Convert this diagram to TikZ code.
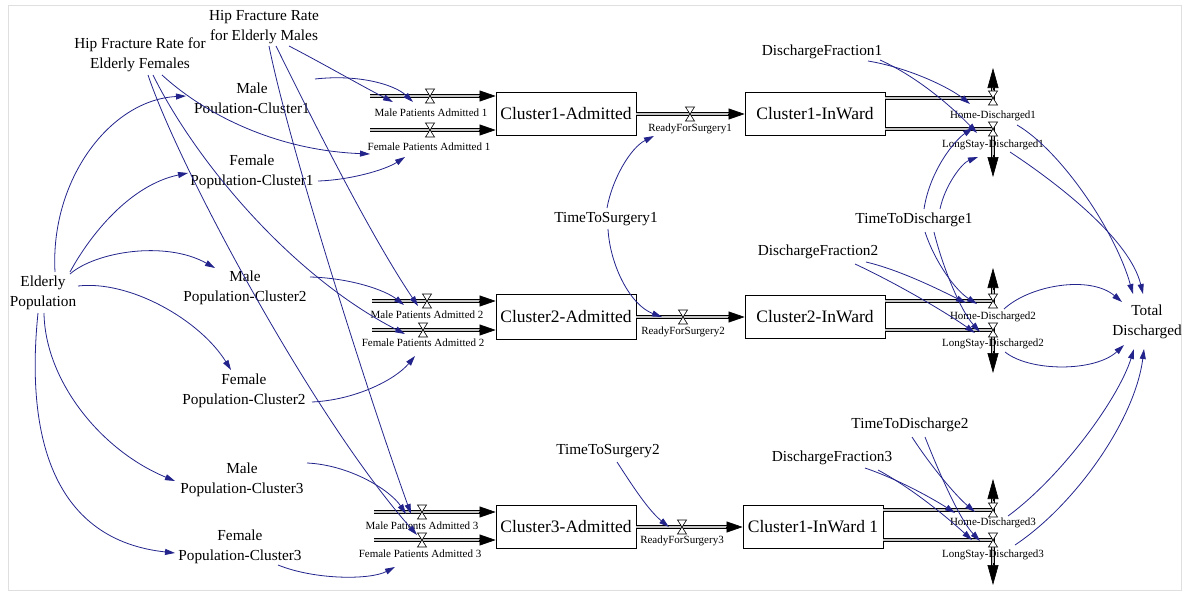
\documentclass[tikz,border=0pt]{standalone}
\usepackage{fontspec}
\setmainfont{Liberation Serif}
\usetikzlibrary{arrows.meta,calc}
\definecolor{connblue}{RGB}{35,35,140}
\begin{document}
\begin{tikzpicture}[x=1pt,y=-1pt,
 aux/.style={font=\fontsize{15.3}{20}\selectfont, align=center, inner sep=1pt},
 stockbox/.style={draw, line width=0.8pt, fill=white, minimum width=140pt, minimum height=43pt, inner sep=0pt, font=\fontsize{17.5}{20}\selectfont},
 flowlbl/.style={font=\fontsize{11}{12}\selectfont, inner sep=0.5pt},
 conn/.style={draw=connblue, line width=0.8pt, -{Triangle[length=10pt,width=6pt]}},
 pipe/.style={draw=black, line width=0.7pt, double=gray!45, double distance=1.8pt},
 pipehead/.style={-{Triangle[length=16pt,width=11pt]}, line width=0.6pt},
 sinkhead/.style={-{Triangle[length=20pt,width=11pt]}, line width=0.6pt},
 valve/.pic={\filldraw[fill=white,draw=black,line width=0.6pt] (-4.5,-7)--(4.5,-7)--(-4.5,7)--(4.5,7)--cycle;}
]
\useasboundingbox (0,0) rectangle (1186,594);
\draw[gray!25, line width=1pt] (8,6) rectangle (1181,590);

% ---------- stocks ----------
\node[stockbox] (ca1) at (566,114) {Cluster1-Admitted};
\node[stockbox] (ciw1) at (815,114) {Cluster1-InWard};
\node[stockbox, minimum height=45pt] (ca2) at (566,317) {Cluster2-Admitted};
\node[stockbox] (ciw2) at (815,317) {Cluster2-InWard};
\node[stockbox] (ca3) at (566,527) {Cluster3-Admitted};
\node[stockbox] (ciw3) at (813,527) {Cluster1-InWard 1};

% ---------- auxiliaries ----------
\node[aux] (hfF) at (140,55) {Hip Fracture Rate for\\Elderly Females};
\node[aux] (hfM) at (264,27) {Hip Fracture Rate\\for Elderly Males};
\node[aux] (mp1) at (252,98) {Male\\Poulation-Cluster1};
\node[aux] (fp1) at (252,172) {Female\\Population-Cluster1};
\node[aux] (ep) at (43,293) {Elderly\\Population};
\node[aux] (mp2) at (245,288) {Male\\Population-Cluster2};
\node[aux] (fp2) at (244,391) {Female\\Population-Cluster2};
\node[aux] (mp3) at (242,480) {Male\\Population-Cluster3};
\node[aux] (fp3) at (240,547) {Female\\Population-Cluster3};
\node[aux] (df1) at (822,52) {DischargeFraction1};
\node[aux] (tts1) at (606,219) {TimeToSurgery1};
\node[aux] (ttd1) at (914,220) {TimeToDischarge1};
\node[aux] (df2) at (818,252) {DischargeFraction2};
\node[aux] (tts2) at (608,451) {TimeToSurgery2};
\node[aux] (ttd2) at (910,425) {TimeToDischarge2};
\node[aux] (df3) at (832,458) {DischargeFraction3};
\node[aux] (td) at (1147,322) {Total\\Discharged};

% ---------- flow coordinates ----------
\coordinate (sm1) at (370,96);  \coordinate (vm1) at (430,96);  \coordinate (em1) at (ca1.west |- sm1);
\coordinate (sf1) at (370,130); \coordinate (vf1) at (430,130); \coordinate (ef1) at (ca1.west |- sf1);
\coordinate (sm2) at (372,301); \coordinate (vm2) at (427,301); \coordinate (em2) at (ca2.west |- sm2);
\coordinate (sf2) at (372,330); \coordinate (vf2) at (423,330); \coordinate (ef2) at (ca2.west |- sf2);
\coordinate (sm3) at (374,512); \coordinate (vm3) at (422,512); \coordinate (em3) at (ca3.west |- sm3);
\coordinate (sf3) at (374,540); \coordinate (vf3) at (422,540); \coordinate (ef3) at (ca3.west |- sf3);
\coordinate (vr1) at (690,114); \coordinate (vr2) at (683,317); \coordinate (vr3) at (682,527);
\coordinate (hs1) at (ciw1.east |- 0,98);  \coordinate (vh1) at (993,98);  \coordinate (th1) at (993,68);
\coordinate (ls1s) at (ciw1.east |- 0,129); \coordinate (vl1) at (993,129); \coordinate (tl1) at (993,177);
\coordinate (hs2) at (ciw2.east |- 0,301); \coordinate (vh2) at (993,301); \coordinate (th2) at (993,268);
\coordinate (ls2s) at (ciw2.east |- 0,330); \coordinate (vl2) at (993,330); \coordinate (tl2) at (993,373);
\coordinate (hs3) at (ciw3.east |- 0,510); \coordinate (vh3) at (993,510); \coordinate (th3) at (993,479);
\coordinate (ls3s) at (ciw3.east |- 0,540); \coordinate (vl3) at (993,540); \coordinate (tl3) at (993,585);

% ---------- pipes ----------
\foreach \s/\e in {sm1/em1,sf1/ef1,sm2/em2,sf2/ef2,sm3/em3,sf3/ef3}{
  \draw[pipe,shorten >=14pt] (\s) -- (\e);
  \draw[pipehead] ([xshift=-17pt]\e) -- (\e);
}
\draw[pipe,shorten >=14pt] (ca1.east) -- (ciw1.west);
\draw[pipehead] ([xshift=-17pt]ciw1.west) -- (ciw1.west);
\draw[pipe,shorten >=14pt] (ca2.east) -- (ciw2.west);
\draw[pipehead] ([xshift=-17pt]ciw2.west) -- (ciw2.west);
\draw[pipe,shorten >=14pt] (ca3.east) -- (ciw3.west);
\draw[pipehead] ([xshift=-17pt]ciw3.west) -- (ciw3.west);
\foreach \s/\v/\t/\d in {hs1/vh1/th1/1,hs2/vh2/th2/1,hs3/vh3/th3/1,ls1s/vl1/tl1/-1,ls2s/vl2/tl2/-1,ls3s/vl3/tl3/-1}{
  \draw[pipe] (\s) -- (\v) -- ([yshift=-\d*17pt]\t);
  \draw[sinkhead] ([yshift=-\d*22pt]\t) -- (\t);
}
\foreach \v in {vm1,vf1,vm2,vf2,vm3,vf3,vr1,vr2,vr3,vh1,vl1,vh2,vl2,vh3,vl3}{
  \pic at (\v) {valve};
}

% ---------- flow labels ----------
\node[flowlbl] (mpa1) at (431,113) {Male Patients Admitted 1};
\node[flowlbl] (fpa1) at (429,147) {Female Patients Admitted 1};
\node[flowlbl] (mpa2) at (427,315) {Male Patients Admitted 2};
\node[flowlbl] (fpa2) at (423,343) {Female Patients Admitted 2};
\node[flowlbl] (mpa3) at (422,526) {Male Patients Admitted 3};
\node[flowlbl] (fpa3) at (420,554) {Female Patients Admitted 3};
\node[flowlbl] (rfs1) at (690,129) {ReadyForSurgery1};
\node[flowlbl] (rfs2) at (683,332) {ReadyForSurgery2};
\node[flowlbl] (rfs3) at (682,541) {ReadyForSurgery3};
\node[flowlbl] (hd1) at (993,116) {Home-Discharged1};
\node[flowlbl] (ls1) at (993,145) {LongStay-Discharged1};
\node[flowlbl] (hd2) at (993,317) {Home-Discharged2};
\node[flowlbl] (ls2) at (993,344) {LongStay-Discharged2};
\node[flowlbl] (hd3) at (993,523) {Home-Discharged3};
\node[flowlbl] (ls3) at (993,555) {LongStay-Discharged3};

% ---------- connectors ----------
% Elderly Population
\draw[conn] ($(ep)+(12,-21)$) .. controls (50,180) and (110,100) .. ($(mp1)+(-66,-2)$);
\draw[conn] ($(ep)+(27,-21)$) .. controls (90,235) and (130,185) .. ($(fp1)+(-64,1)$);
\draw[conn] ($(ep)+(27,-19)$) .. controls (95,252) and (165,240) .. ($(mp2)+(-30,-20)$);
\draw[conn] ($(ep)+(35,-7)$) .. controls (130,280) and (200,320) .. ($(fp2)+(-13,-21)$);
\draw[conn] ($(ep)+(1,20)$) .. controls (45,380) and (100,450) .. ($(mp3)+(-67,1)$);
\draw[conn] ($(ep)+(-5,20)$) .. controls (25,440) and (55,540) .. ($(fp3)+(-65,6)$);
% Hip fracture rates
\draw[conn] ($(hfF)+(22,20)$) .. controls (200,110) and (270,150) .. ($(fpa1)+(-59,7)$);
\draw[conn] ($(hfF)+(13,20)$) .. controls (195,160) and (290,275) .. ($(fpa2)+(-18,-9)$);
\draw[conn] ($(hfF)+(8,20)$) .. controls (180,170) and (315,420) .. ($(fpa3)+(-3,-19)$);
\draw[conn] ($(hfM)+(25,19)$) .. controls (320,62) and (360,85) .. ($(mpa1)+(-38,-11)$);
\draw[conn] ($(hfM)+(12,19)$) .. controls (310,115) and (370,235) .. ($(mpa2)+(-9,-9)$);
\draw[conn] ($(hfM)+(5,19)$) .. controls (290,150) and (370,400) .. ($(mpa3)+(-11,-12)$);
% populations to admissions
\draw[conn] ($(mp1)+(63,-19)$) .. controls (360,74) and (395,85) .. ($(mpa1)+(-18,-11)$);
\draw[conn] ($(fp1)+(66,9)$) .. controls (350,180) and (385,170) .. ($(fpa1)+(-24,10)$);
\draw[conn] ($(mp2)+(65,-11)$) .. controls (350,278) and (385,290) .. ($(mpa2)+(-23,-10)$);
\draw[conn] ($(fp2)+(68,11)$) .. controls (355,400) and (395,380) .. ($(fpa2)+(-8,13)$);
\draw[conn] ($(mp3)+(65,-17)$) .. controls (350,465) and (390,490) .. ($(mpa3)+(-16,-12)$);
\draw[conn] ($(fp3)+(38,18)$) .. controls (315,580) and (370,580) .. ($(fpa3)+(-25,13)$);
% time to surgery
\draw[conn] ($(tts1)+(1,-11)$) .. controls (612,180) and (630,148) .. ($(rfs1)+(-36,7)$);
\draw[conn] ($(tts1)+(2,10)$) .. controls (610,265) and (630,305) .. ($(rfs2)+(-21,-15)$);
\draw[conn] ($(tts2)+(9,11)$) .. controls (632,485) and (648,510) .. ($(rfs3)+(-13,-14)$);
% discharge fractions and times
\draw[conn] ($(df1)+(46,9)$) .. controls (910,68) and (950,88) .. ($(hd1)+(-23,-12)$);
\draw[conn] ($(df1)+(58,8)$) .. controls (920,78) and (955,110) .. ($(ls1)+(-16,-12)$);
\draw[conn] ($(ttd1)+(10,-11)$) .. controls (930,170) and (955,140) .. ($(hd1)+(-20,12)$);
\draw[conn] ($(ttd1)+(26,-11)$) .. controls (945,185) and (962,163) .. ($(ls1)+(-15,12)$);
\draw[conn] ($(ttd1)+(11,12)$) .. controls (935,262) and (955,290) .. ($(hd2)+(-16,-13)$);
\draw[conn] ($(ttd1)+(20,12)$) .. controls (942,265) and (960,310) .. ($(ls2)+(-13,-12)$);
\draw[conn] ($(df2)+(48,10)$) .. controls (900,270) and (940,290) .. ($(hd2)+(-27,-14)$);
\draw[conn] ($(df2)+(37,12)$) .. controls (900,285) and (950,315) .. ($(ls2)+(-18,-11)$);
\draw[conn] ($(ttd2)+(2,12)$) .. controls (930,465) and (955,495) .. ($(hd3)+(-18,-11)$);
\draw[conn] ($(ttd2)+(15,12)$) .. controls (940,475) and (960,520) .. ($(ls3)+(-13,-14)$);
\draw[conn] ($(df3)+(33,10)$) .. controls (900,480) and (935,500) .. ($(hd3)+(-38,-10)$);
\draw[conn] ($(df3)+(46,12)$) .. controls (915,490) and (950,520) .. ($(ls3)+(-21,-15)$);
% to total discharged
\draw[conn] ($(hd1)+(24,9)$) .. controls (1060,150) and (1115,230) .. ($(td)+(-14,-28)$);
\draw[conn] ($(ls1)+(17,7)$) .. controls (1060,185) and (1130,240) .. ($(td)+(-4,-28)$);
\draw[conn] ($(hd2)+(11,-8)$) .. controls (1030,285) and (1090,275) .. ($(td)+(-25,-20)$);
\draw[conn] ($(ls2)+(12,8)$) .. controls (1030,372) and (1095,372) .. ($(td)+(-23,23)$);
\draw[conn] ($(hd3)+(15,-7)$) .. controls (1060,478) and (1118,400) .. ($(td)+(-13,27)$);
\draw[conn] ($(ls3)+(22,-10)$) .. controls (1075,505) and (1135,420) .. ($(td)+(-3,27)$);
\end{tikzpicture}
\end{document}
